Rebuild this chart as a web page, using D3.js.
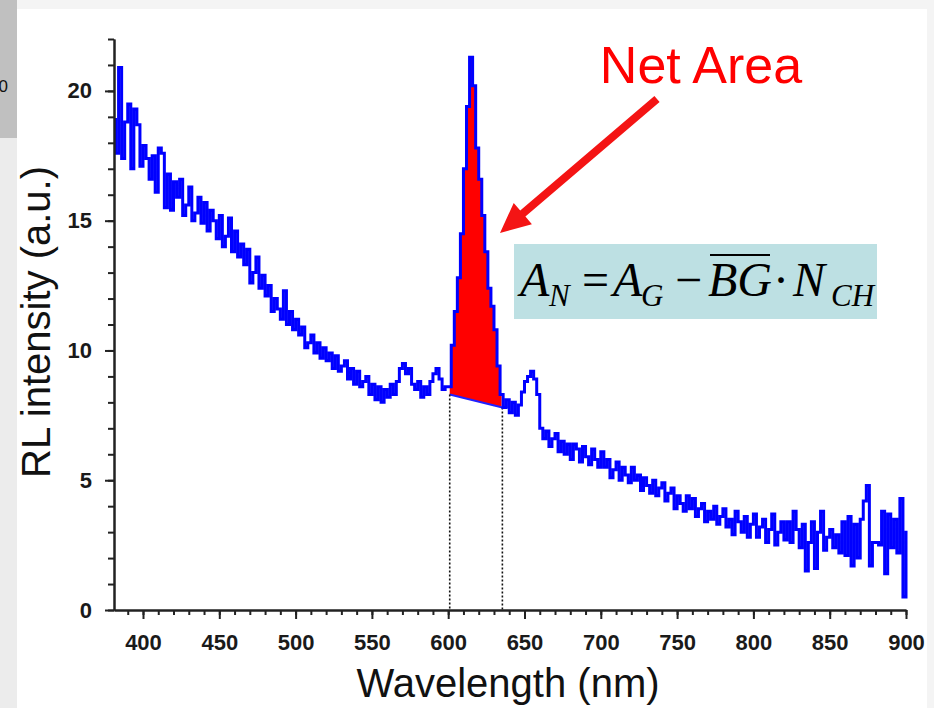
<!DOCTYPE html>
<html><head><meta charset="utf-8">
<script src="https://cdn.jsdelivr.net/npm/d3@7"></script>
<style>body{margin:0;background:#f4f4f4}svg{display:block}</style>
</head><body><svg id="c" width="934" height="708"></svg>
<script>
// ---- data ----
const wavelengths = d3.range(381, 902, 2); // sampling grid (nm)
const intensity = [
  18.9, 17.6, 20.9, 17.4, 18.8, 19.5, 17.0, 19.3, 18.7, 17.1,
  17.9, 17.4, 16.6, 17.5, 16.1, 17.8, 17.6, 15.5, 16.8, 15.4,
  16.5, 15.9, 16.6, 15.2, 15.6, 16.3, 15.0, 15.3, 15.9, 14.9,
  15.7, 14.6, 15.4, 15.0, 14.3, 15.2, 14.0, 14.4, 15.1, 13.8,
  14.6, 13.6, 14.1, 13.3, 13.9, 12.6, 13.0, 13.6, 12.4, 12.9,
  12.1, 12.5, 11.5, 12.0, 11.6, 11.2, 12.3, 11.0, 11.5, 10.8,
  11.2, 10.6, 10.9, 10.1, 10.3, 10.6, 9.9, 10.3, 9.7, 10.1,
  9.6, 9.9, 9.3, 9.8, 9.2, 9.4, 9.6, 8.9, 9.3, 8.7,
  9.2, 8.6, 8.8, 9.0, 8.3, 8.7, 8.1, 8.6, 8.0, 8.5,
  8.2, 8.7, 8.3, 8.8, 9.3, 9.5, 9.1, 9.3, 8.7, 8.5,
  8.8, 8.2, 8.6, 8.3, 8.8, 9.1, 9.3, 8.9, 8.5, 8.6,
  8.6, 10.2, 11.5, 12.8, 14.5, 17.0, 19.4, 21.3, 20.2, 17.8,
  16.6, 15.2, 13.8, 12.4, 11.7, 10.8, 9.4, 8.3, 7.8, 8.1,
  7.6, 8.0, 7.5, 7.9, 8.4, 8.8, 9.0, 9.2, 8.9, 8.3,
  7.0, 6.6, 6.9, 6.3, 6.6, 6.8, 6.1, 6.5, 6.0, 6.4,
  5.8, 6.4, 6.2, 5.7, 6.3, 5.9, 5.6, 6.2, 5.8, 5.5,
  6.1, 5.5, 5.8, 5.1, 5.4, 5.7, 5.0, 5.5, 5.2, 4.9,
  5.5, 5.0, 5.2, 4.6, 5.1, 4.8, 4.5, 5.0, 4.4, 4.7,
  4.9, 4.2, 4.5, 4.7, 3.9, 4.4, 4.1, 3.8, 4.4, 3.9,
  4.3, 3.6, 3.9, 4.1, 3.4, 3.8, 3.5, 4.0, 3.3, 3.6,
  3.9, 3.2, 3.5, 2.9, 3.8, 3.4, 3.0, 3.6, 2.8, 3.3,
  3.7, 2.8, 3.2, 3.5, 2.6, 3.1, 3.7, 2.5, 3.0, 3.4,
  2.7, 3.4, 2.6, 3.8, 3.1, 2.4, 3.3, 1.5, 2.6, 3.4,
  1.6, 3.0, 3.8, 2.3, 2.8, 3.1, 2.4, 2.9, 2.2, 3.4,
  2.1, 3.6, 1.7, 3.3, 2.0, 3.5, 4.2, 4.8, 1.7, 2.6,
  2.6, 2.5, 3.8, 1.4, 3.7, 2.4, 3.5, 2.2, 4.3, 0.5,
  3.0
];
const xMajorTicks = [400, 450, 500, 550, 600, 650, 700, 750, 800, 850, 900];
const xMinorTicks = d3.range(390, 901, 10);
const yMajorTicks = [0, 5, 10, 15, 20];
const yMinorTicks = d3.range(0, 23, 1);
const netWindow = [601, 635.5];       // integration window (nm)
const bgLevels = [8.3, 7.8];          // background line ends
const xTitle = "Wavelength (nm)";
const yTitle = "RL intensity (a.u.)";
const annotation = "Net Area";

const data = wavelengths.map((w, i) => ({w, v: intensity[i]}));

// ---- layout ----
const svg = d3.select("#c");
svg.append("rect").attr("x",0).attr("y",0).attr("width",934).attr("height",708).attr("fill","#f4f4f4");
svg.append("rect").attr("x",0).attr("y",138).attr("width",17).attr("height",570).attr("fill","#ececec");
svg.append("rect").attr("x",17).attr("y",9).attr("width",910).attr("height",699).attr("fill","#ffffff");
svg.append("rect").attr("x",0).attr("y",0).attr("width",17).attr("height",138).attr("fill","#c0c0c0");
svg.append("text").attr("x",8).attr("y",92).attr("text-anchor","end")
  .attr("font-family","Liberation Sans, Arial").attr("font-size",17).attr("fill","#111").text("0");

const x = d3.scaleLinear().domain([381, 900]).range([114, 906]);
const y = d3.scaleLinear().domain([0, 22]).range([610, 39]);

// ---- net area fill ----
const bg = d3.scaleLinear().domain(netWindow).range(bgLevels);
const inWin = data.filter(d => d.w >= netWindow[0] && d.w <= netWindow[1]);
svg.append("path").datum(inWin)
  .attr("d", d3.area().curve(d3.curveStep).x(d => x(d.w)).y1(d => y(d.v)).y0(d => y(bg(d.w))))
  .attr("fill", "#ff0000");
svg.append("line")
  .attr("x1", x(netWindow[0])).attr("y1", y(bgLevels[0]))
  .attr("x2", x(netWindow[1])).attr("y2", y(bgLevels[1]))
  .attr("stroke", "#2020ff").attr("stroke-width", 2);

// dotted window lines
netWindow.forEach((w, i) => {
  svg.append("line").attr("x1", x(w)).attr("x2", x(w))
    .attr("y1", y(bgLevels[i])).attr("y2", y(0))
    .attr("stroke", "#111").attr("stroke-width", 1.6).attr("stroke-dasharray", "2,2");
});

// ---- spectrum ----
svg.append("path").datum(data)
  .attr("d", d3.line().curve(d3.curveStep).x(d => x(d.w)).y(d => y(d.v)))
  .attr("fill", "none").attr("stroke", "#0000ff").attr("stroke-width", 3).attr("stroke-linejoin","miter");

// ---- axes ----
const axStyle = g => {
  g.selectAll("path,line").attr("stroke", "#222").attr("stroke-width", 2);
  g.selectAll("text").attr("font-family", "Liberation Sans, Arial").attr("font-weight", "bold")
    .attr("font-size", 22).attr("fill", "#1a1a1a");
};
svg.append("g").attr("transform", "translate(0,610)")
  .call(d3.axisBottom(x).tickValues(xMinorTicks).tickSize(5).tickSizeOuter(0).tickFormat(""))
  .call(axStyle);
svg.append("g").attr("transform", "translate(0,610)")
  .call(d3.axisBottom(x).tickValues(xMajorTicks).tickSize(9).tickSizeOuter(0).tickPadding(15).tickFormat(d3.format("d")))
  .call(axStyle);
svg.append("g").attr("transform", "translate(114,0)")
  .call(d3.axisLeft(y).tickValues(yMinorTicks).tickSize(6).tickSizeOuter(0).tickFormat(""))
  .call(axStyle);
svg.append("g").attr("transform", "translate(114,0)")
  .call(d3.axisLeft(y).tickValues(yMajorTicks).tickSize(9).tickSizeOuter(0).tickPadding(13).tickFormat(d3.format("d")))
  .call(axStyle);

// titles
svg.append("text").attr("x", 508).attr("y", 697).attr("text-anchor", "middle")
  .attr("font-family", "Liberation Sans, Arial").attr("font-size", 40).attr("fill", "#111").text(xTitle);
svg.append("text").attr("transform", "translate(50,322) rotate(-90)").attr("text-anchor", "middle")
  .attr("font-family", "Liberation Sans, Arial").attr("font-size", 40).attr("fill", "#111").text(yTitle);

// ---- annotation ----
svg.append("text").attr("x", 701).attr("y", 83).attr("text-anchor", "middle")
  .attr("font-family", "Liberation Sans, Arial").attr("font-size", 52).attr("fill", "#ff0000").text(annotation);

// arrow
(function(){
  const tail = [657, 99], tip = [500, 233];
  const dx = tail[0]-tip[0], dy = tail[1]-tip[1], L = Math.hypot(dx, dy);
  const u = [dx/L, dy/L], n = [-u[1], u[0]];
  const hl = 30, hw = 14, sw = 4;
  const b = [tip[0]+u[0]*hl, tip[1]+u[1]*hl];
  const pts = [
    tip,
    [b[0]+n[0]*hw, b[1]+n[1]*hw],
    [b[0]+n[0]*sw, b[1]+n[1]*sw],
    [tail[0]+n[0]*sw, tail[1]+n[1]*sw],
    [tail[0]-n[0]*sw, tail[1]-n[1]*sw],
    [b[0]-n[0]*sw, b[1]-n[1]*sw],
    [b[0]-n[0]*hw, b[1]-n[1]*hw]
  ];
  svg.append("path").attr("d", d3.line()(pts) + "Z").attr("fill", "#f41414");
})();

// formula box
svg.append("rect").attr("x", 514).attr("y", 244).attr("width", 363).attr("height", 75).attr("fill", "#bde0e3");
const f = svg.append("g").attr("font-family", "Liberation Serif, Times New Roman, serif").attr("fill", "#000");
const parts = [
  {t:"A", x:520, y:296, s:48, it:true},
  {t:"N", x:549, y:306, s:31, it:true},
  {t:"=", x:582, y:296, s:48, it:false},
  {t:"A", x:613, y:296, s:48, it:true},
  {t:"G", x:641, y:306, s:31, it:true},
  {t:"\u2212", x:675, y:296, s:48, it:false},
  {t:"BG", x:708, y:296, s:48, it:true},
  {t:"\u00b7", x:773, y:296, s:48, it:false},
  {t:"N", x:793, y:296, s:48, it:true},
  {t:"CH", x:831, y:306, s:31, it:true}
];
parts.forEach(p => f.append("text").attr("x", p.x).attr("y", p.y).attr("font-size", p.s)
  .attr("font-style", p.it ? "italic" : "normal").text(p.t));
f.append("line").attr("x1", 710).attr("x2", 770).attr("y1", 255).attr("y2", 255)
  .attr("stroke", "#000").attr("stroke-width", 2);
</script></body></html>
